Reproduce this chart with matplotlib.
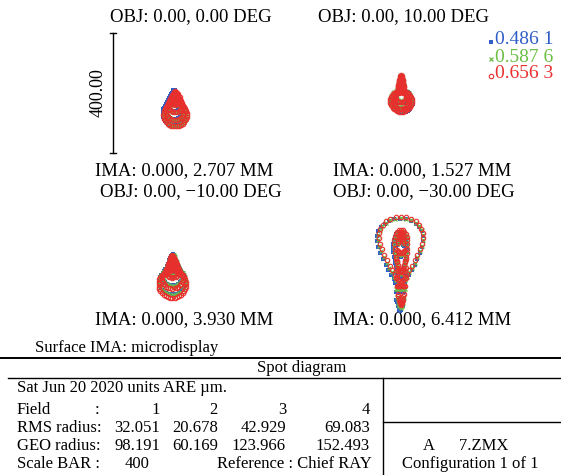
import numpy as np
import matplotlib.pyplot as plt

plt.rcParams['font.family'] = ['Liberation Serif', 'DejaVu Serif']

W, H = 561, 475
PX_PER_UM = 0.3

obj_labels = ['OBJ: 0.00, 0.00 DEG', 'OBJ: 0.00, 10.00 DEG',
              'OBJ: 0.00, \u221210.00 DEG', 'OBJ: 0.00, \u221230.00 DEG']
ima_labels = ['IMA: 0.000, 2.707 MM', 'IMA: 0.000, 1.527 MM',
              'IMA: 0.000, 3.930 MM', 'IMA: 0.000, 6.412 MM']
wavelengths = ['0.486 1', '0.587 6', '0.656 3']
wave_colors = ['#2f5ec6', '#6cbf45', '#e8302e']
field_nums = ['1', '2', '3', '4']
rms_radius = ['32.051', '20.678', '42.929', '69.083']
geo_radius = ['98.191', '60.169', '123.966', '152.493']
scale_bar = 400

# pupil rings of the red (0.6563) rays, in um: (cx, cy, a, b, taper)
rings_f1 = [(-3, 2, 5, 5, 0), (-3, -8, 10, 10, 0), (-3, -22, 17, 17, 0),
            (-3, -40, 24, 24, 0), (-3, -58, 32, 32, 0), (-3, -72, 39, 39, 0)]
rings_f2 = [(3, 55, 4, 4, 0), (3, 40, 7, 7, 0), (3, 22, 10, 10, 0),
            (3, -12, 19, 19, 0), (3, -26, 28, 28, 0), (3, -27, 36, 36, 0)]
rings_f3 = [(-12, 18, 4, 4, 0), (-12, 8, 8, 8, 0), (-12, -8, 14, 14, 0),
            (-12, -30, 22, 22, 0), (-12, -55, 34, 34, 0), (-12, -74, 46, 46, 0)]
rings_f4 = [(3, -25, 5, 110, 0), (3, -23, 9, 115, 0), (3, -22, 13, 118, 0),
            (3, -21, 16, 121, 0), (3, 37, 20, 70, 0.5), (3, 42, 63, 108, 0.65)]
spot_rings = [rings_f1, rings_f2, rings_f3, rings_f4]

# blue / green spot offset and scale against the red one: (dx, dy, scale)
shift_f1 = [(-3, 4, 1.0), (0, -4, 0.95), (0, 0, 1.0)]
shift_f2 = [(4, -2, 1.0), (0, 3, 0.95), (0, 0, 1.0)]
shift_f3 = [(0, 6, 0.95), (0, 4, 0.95), (0, 0, 1.0)]
shift_f4 = [(-3, -14, 1.05), (-1, -7, 1.02), (0, 0, 1.0)]
spot_shifts = [shift_f1, shift_f2, shift_f3, shift_f4]

panel_centers = [(176, 93), (400, 93), (176, 262), (400, 262)]
obj_pos = [(110, 17), (318, 17), (100, 192), (333, 192)]
ima_pos = [(95, 171), (333, 171), (95, 320), (333, 320)]

markers = [dict(marker='s', ms=2.4, mew=0, mfc=wave_colors[0]),
           dict(marker='x', ms=2.8, mew=0.9, mec=wave_colors[1]),
           dict(marker='o', ms=3.2, mew=0.8, mec=wave_colors[2], mfc='none')]


def ring_points(cx, cy, a, b, taper, n):
    t = np.linspace(0, 2 * np.pi, n, endpoint=False) + np.pi / 2
    x = cx + a * np.cos(t) * (1 + taper * np.sin(t))
    y = cy + b * np.sin(t)
    return x, y


fig = plt.figure(figsize=(W / 100, H / 100), dpi=100)
bg = fig.add_axes([0, 0, 1, 1])
bg.set_xlim(0, W)
bg.set_ylim(H, 0)
bg.axis('off')

size = 220
half = size / 2 / PX_PER_UM
panels = []
for (cx, cy) in panel_centers:
    ax = fig.add_axes([(cx - size / 2) / W, 1 - (cy + size / 2) / H, size / W, size / H])
    ax.set_xlim(-half, half)
    ax.set_ylim(-half, half)
    ax.axis('off')
    panels.append(ax)

for ax, rings, shifts in zip(panels, spot_rings, spot_shifts):
    for w in range(3):
        dx, dy, s = shifts[w]
        for k, ring in enumerate(rings):
            x, y = ring_points(*ring, 6 * (k + 1))
            ax.plot(x * s + dx, y * s + dy, ls='none', **markers[w])

# scale bar on the first panel
sb = panels[0]
sb.plot([-210, -210], [-scale_bar / 2, scale_bar / 2], color='k', lw=1.0)
sb.plot([-220, -200], [scale_bar / 2, scale_bar / 2], color='k', lw=1.0)
sb.plot([-220, -200], [-scale_bar / 2, -scale_bar / 2], color='k', lw=1.0)
sb.text(-258, 0, '%.2f' % scale_bar, rotation=90, ha='center', va='center', fontsize=13)

tfs = 13.5
for (x, y), s in zip(obj_pos, obj_labels):
    bg.text(x, y, s, ha='left', va='center', fontsize=tfs)
for (x, y), s in zip(ima_pos, ima_labels):
    bg.text(x, y, s, ha='left', va='center', fontsize=tfs)

# legend
for w, lab in enumerate(wavelengths):
    y = 40 + 17 * w
    bg.plot([491], [y + 2], ls='none', **markers[w])
    bg.text(495, y, lab, color=wave_colors[w], ha='left', va='center', fontsize=14)

# info table
fs = 12
bg.text(35, 348, 'Surface IMA: microdisplay', ha='left', va='center', fontsize=fs)
bg.plot([0, W], [358, 358], color='k', lw=1.4)
bg.text(302, 368, 'Spot diagram', ha='center', va='center', fontsize=fs)
bg.plot([8, W], [378, 378], color='k', lw=1.0)
bg.plot([383, 383], [378, H], color='k', lw=1.0)
bg.plot([383, W], [422, 422], color='k', lw=1.0)
bg.text(17, 388, 'Sat Jun 20 2020 units ARE \u00b5m.', ha='left', va='center', fontsize=fs)

row_y = [410, 428, 446]
row_names = ['Field', 'RMS radius:', 'GEO radius:']
row_vals = [field_nums, rms_radius, geo_radius]
col_right = [160, 218, 286, 370]
for y, name, vals in zip(row_y, row_names, row_vals):
    bg.text(17, y, name, ha='left', va='center', fontsize=fs)
    for xr, v in zip(col_right, vals):
        bg.text(xr, y, v, ha='right', va='center', fontsize=fs)
bg.text(95, 410, ':', ha='left', va='center', fontsize=fs)
bg.text(17, 464, 'Scale BAR :', ha='left', va='center', fontsize=fs)
bg.text(150, 464, '%d' % scale_bar, ha='right', va='center', fontsize=fs)
bg.text(372, 464, 'Reference : Chief RAY', ha='right', va='center', fontsize=fs)
bg.text(466, 446, 'A      7.ZMX', ha='center', va='center', fontsize=fs)
bg.text(470, 464, 'Configuration 1 of 1', ha='center', va='center', fontsize=fs)

fig.savefig('out.png', dpi=100)
